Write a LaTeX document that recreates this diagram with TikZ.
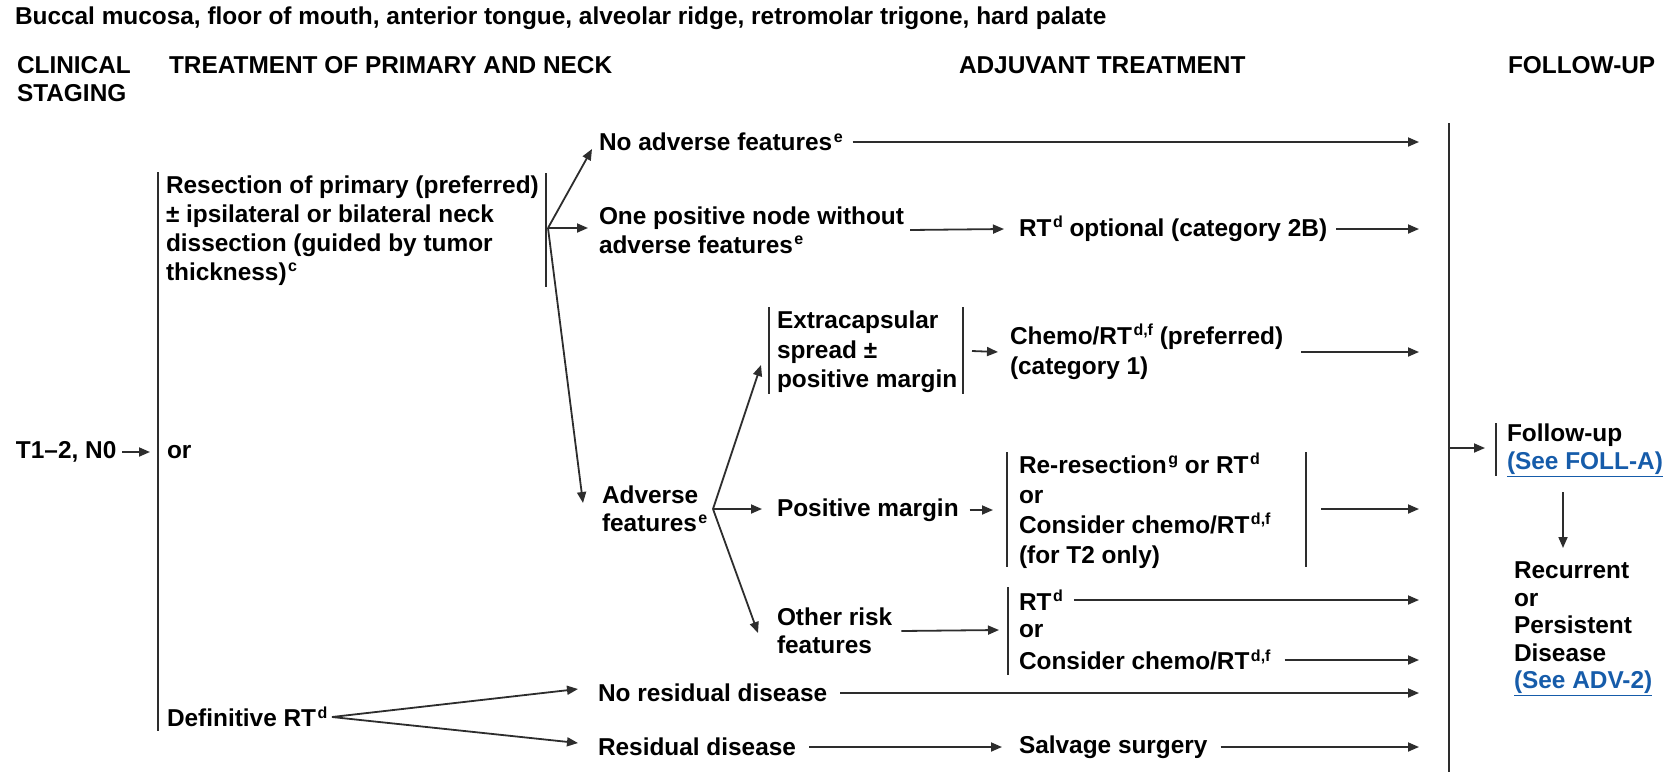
\documentclass[tikz,border=0pt]{standalone}
\usepackage{fontspec}
\setmainfont{Liberation Sans}
\usetikzlibrary{arrows.meta}
\definecolor{linkblue}{RGB}{22,92,170}
\definecolor{inkline}{RGB}{45,45,45}
% footnote marks
\newcommand\fn[1]{\hspace{1.5pt}\raisebox{8.5pt}{\fontsize{16}{16}\selectfont #1}}
% cross-reference links
\newcommand\lnk[1]{{\color{linkblue}\underline{#1}}}
\begin{document}
\begin{tikzpicture}[x=1pt,y=-1pt,
  txt/.style={anchor=west,inner sep=0pt,outer sep=0pt,align=left,
    font=\fontsize{24.4}{29}\selectfont\bfseries},
  bar/.style={draw=inkline,line width=1.8pt},
  arr/.style={draw=inkline,line width=1.8pt,-{Triangle[length=11pt,width=9pt]}}]
\useasboundingbox (0,0) rectangle (1671,772);

% x position where all adjuvant arrows stop
\coordinate (tipx) at (1419,0);

% headings
\node[txt] (title) at (15,18) {Buccal mucosa, floor of mouth, anterior tongue, alveolar ridge, retromolar trigone, hard palate};
\node[txt,font=\fontsize{24.4}{28}\selectfont\bfseries] (hStage) at (17,79) {CLINICAL\\STAGING};
\node[txt] (hTreat) at (169,65) {TREATMENT OF PRIMARY AND NECK};
\node[txt] (hAdj) at (959,65) {ADJUVANT TREATMENT};
\node[txt] (hFollow) at (1508,65) {FOLLOW-UP};

% staging and primary treatment
\node[txt] (stage) at (16,452) {T1–2, N0};
\coordinate (barL) at (158,452);
\draw[arr] ([xshift=6pt]stage.east) -- ([xshift=-8pt]barL);
\draw[bar] (158,172) -- (158,731);
\node[txt] (orA) at (167,452) {or};
\node[txt] (resect) at (166,230.5) {Resection of primary (preferred)\\± ipsilateral or bilateral neck\\dissection (guided by tumor\\thickness)\fn{c}};
\draw[bar] (546,173) -- (546,287);
\coordinate (jRes) at (548,228);

% outcomes after resection
\node[txt] (noAdv) at (599,142) {No adverse features\fn{e}};
\node[txt] (onePos) at (599,230) {One positive node without\\adverse features\fn{e}};
\node[txt,font=\fontsize{24.4}{28}\selectfont\bfseries] (adv) at (602,509) {Adverse\\features\fn{e}};
\coordinate (tNoAdv) at (592,149);
\coordinate (tOnePos) at (588,228);
\coordinate (tAdv) at (583,503);
\draw[arr] (jRes) -- (tNoAdv);
\draw[arr] (jRes) -- (tOnePos);
\draw[arr] (jRes) -- (tAdv);

\draw[arr] ([xshift=10pt]noAdv.east) -- (noAdv.east -| tipx);
\node[txt] (rtOpt) at (1019,229) {RT\fn{d} optional (category 2B)};
\draw[arr] ([xshift=6pt]onePos.east) -- ([xshift=-15pt]rtOpt.west);
\draw[arr] ([xshift=9pt]rtOpt.east) -- (rtOpt.east -| tipx);

% adverse features split
\coordinate (jAdv) at (713,509);
\coordinate (tExt) at (761,365);
\coordinate (tPos) at (762,509);
\coordinate (tOther) at (758,633);
\draw[arr] (jAdv) -- (tExt);
\draw[arr] (jAdv) -- (tPos);
\draw[arr] (jAdv) -- (tOther);

% extracapsular spread
\draw[bar] (769,307) -- (769,394);
\draw[bar] (963,307) -- (963,394);
\node[txt,font=\fontsize{24.4}{29.5}\selectfont\bfseries] (ext) at (777,352) {Extracapsular\\spread ±\\positive margin};
\coordinate (extR) at (963,351);
\node[txt,font=\fontsize{24.4}{30}\selectfont\bfseries] (chemoA) at (1010,352) {Chemo/RT\fn{d,f} (preferred)\\(category 1)};
\draw[arr] ([xshift=9pt]extR) -- ([xshift=-12pt]chemoA.west);
\draw[arr] ([xshift=18pt]chemoA.east) -- (chemoA.east -| tipx);

% positive margin
\node[txt] (posM) at (777,510) {Positive margin};
\coordinate (rerL) at (1007,510);
\coordinate (rerR) at (1306,509);
\draw[bar] (1007,452) -- (1007,567);
\draw[bar] (1306,452) -- (1306,567);
\node[txt,font=\fontsize{24.4}{30}\selectfont\bfseries] (reres) at (1019,510.5) {Re-resection\fn{g} or RT\fn{d}\\or\\Consider chemo/RT\fn{d,f}\\(for T2 only)};
\draw[arr] ([xshift=11pt]posM.east) -- ([xshift=-14pt]rerL);
\draw[arr] ([xshift=15pt]rerR) -- (rerR -| tipx);

% other risk features
\node[txt,font=\fontsize{24.4}{28}\selectfont\bfseries] (other) at (777,631) {Other risk\\features};
\coordinate (rtL) at (1008,630);
\draw[bar] (1008,587) -- (1008,675);
\draw[arr] ([xshift=9pt]other.east) -- ([xshift=-9pt]rtL);
\node[txt] (rtA) at (1019,600) {RT\fn{d}};
\node[txt] (rtOr) at (1019,631) {or};
\node[txt] (rtB) at (1019,660) {Consider chemo/RT\fn{d,f}};
\draw[arr] ([xshift=11pt]rtA.east) -- (rtA.east -| tipx);
\draw[arr] ([xshift=14pt]rtB.east) -- (rtB.east -| tipx);

% definitive radiotherapy
\node[txt] (defRT) at (167,717) {Definitive RT\fn{d}};
\coordinate (jDef) at (332,717);
\coordinate (tNoRes) at (578,689);
\coordinate (tRes) at (578,743);
\draw[arr] (jDef) -- (tNoRes);
\draw[arr] (jDef) -- (tRes);
\node[txt] (noRes) at (598,693) {No residual disease};
\node[txt] (resid) at (598,747) {Residual disease};
\node[txt] (salv) at (1019,747) {Salvage surgery};
\draw[arr] ([xshift=13pt]noRes.east) -- (noRes.east -| tipx);
\draw[arr] ([xshift=13pt]resid.east) -- ([xshift=-17pt]salv.west);
\draw[arr] ([xshift=13pt]salv.east) -- (salv.east -| tipx);

% follow-up column
\draw[bar] (1449,123) -- (1449,772);
\coordinate (mainF) at (1449,448);
\coordinate (fBar) at (1496,448);
\draw[arr] (mainF) -- ([xshift=-11pt]fBar);
\draw[bar] (1496,423) -- (1496,476);
\node[txt,font=\fontsize{24.4}{28}\selectfont\bfseries] (follow) at (1507,450) {Follow-up\\\lnk{(See FOLL-A)}};
\coordinate (fdA) at (1563,492);
\coordinate (fdB) at (1563,548);
\draw[arr] (fdA) -- (fdB);
\node[txt,font=\fontsize{24.4}{27.5}\selectfont\bfseries] (recur) at (1514,629) {Recurrent\\or\\Persistent\\Disease\\\lnk{(See ADV-2)}};
\end{tikzpicture}
\end{document}
